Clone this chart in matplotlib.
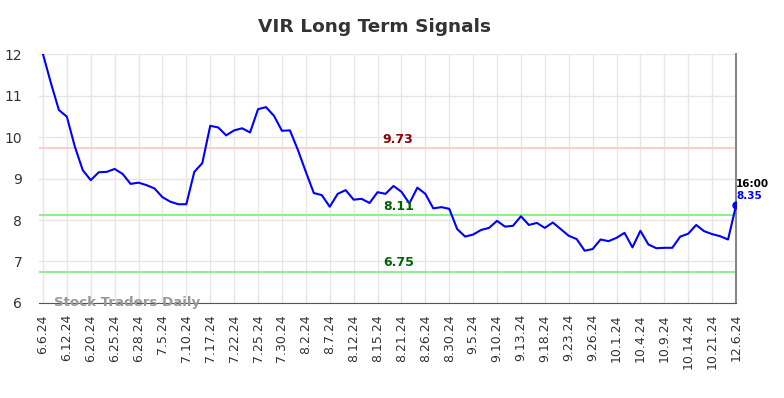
#!/usr/bin/env python3
import matplotlib
matplotlib.use("Agg")
import matplotlib.pyplot as plt

# closing values, one per trading day
prices = [12.0, 11.3, 10.65, 10.49, 9.77, 9.2, 8.96, 9.15, 9.16, 9.23,
          9.11, 8.87, 8.9, 8.84, 8.76, 8.55, 8.44, 8.38, 8.38, 9.16,
          9.37, 10.27, 10.23, 10.04, 10.16, 10.21, 10.11, 10.67, 10.72, 10.51,
          10.15, 10.16, 9.69, 9.16, 8.65, 8.6, 8.32, 8.63, 8.72, 8.49,
          8.51, 8.41, 8.67, 8.63, 8.82, 8.68, 8.4, 8.78, 8.63, 8.28,
          8.31, 8.27, 7.78, 7.6, 7.65, 7.76, 7.81, 7.98, 7.84, 7.86,
          8.09, 7.88, 7.93, 7.81, 7.94, 7.78, 7.62, 7.54, 7.26, 7.3,
          7.53, 7.49, 7.57, 7.69, 7.34, 7.74, 7.41, 7.32, 7.33, 7.33,
          7.6, 7.67, 7.88, 7.73, 7.66, 7.61, 7.53, 8.35]

tick_labels = ["6.6.24", "6.12.24", "6.20.24", "6.25.24", "6.28.24", "7.5.24",
               "7.10.24", "7.17.24", "7.22.24", "7.25.24", "7.30.24", "8.2.24",
               "8.7.24", "8.12.24", "8.15.24", "8.21.24", "8.26.24", "8.30.24",
               "9.5.24", "9.10.24", "9.13.24", "9.18.24", "9.23.24", "9.26.24",
               "10.1.24", "10.4.24", "10.9.24", "10.14.24", "10.21.24", "12.6.24"]

resistance = 9.73
supports = [8.11, 6.75]
last_time = "16:00"

fig = plt.figure(figsize=(7.84, 3.98), dpi=100)
ax = fig.add_axes([0.0497, 0.2387, 0.8891, 0.6256])

x = list(range(len(prices)))
ax.plot(x, prices, color="#0000ff", linewidth=1.5, zorder=3)
ax.plot(x[-1], prices[-1], "o", color="#0000ff", markersize=5, zorder=4)

ax.axhline(resistance, color="#ffcccc", linewidth=1.5, zorder=2)
for s in supports:
    ax.axhline(s, color="#90ee90", linewidth=1.5, zorder=2)

mid = 44.6
ax.text(mid, resistance + 0.06, f"{resistance:.2f}", color="#8b0000",
        fontsize=9, fontweight="bold", ha="center", va="bottom")
for s in supports:
    ax.text(mid, s + 0.06, f"{s:.2f}", color="#006400",
            fontsize=9, fontweight="bold", ha="center", va="bottom")

ax.text(x[-1], prices[-1] + 0.4, last_time, color="black", fontsize=7.5,
        fontweight="bold", ha="left", va="bottom")
ax.text(x[-1], prices[-1] + 0.1, f"{prices[-1]:.2f}", color="#0000ff",
        fontsize=7.5, fontweight="bold", ha="left", va="bottom")

ax.text(1.4, 6.0, "Stock Traders Daily", color="#999999", fontsize=9.6,
        fontweight="bold", ha="left", va="center", zorder=5)

ax.set_xlim(-0.5, len(prices) - 1)
ax.set_ylim(6, 12)
ax.set_yticks([6, 7, 8, 9, 10, 11, 12])
ax.set_xticks(x[::3])
ax.set_xticklabels(tick_labels, rotation=90, fontsize=9, color="#333333")
ax.tick_params(axis="y", labelsize=10, colors="#333333", length=0, pad=12)
ax.tick_params(axis="x", length=0, pad=8)

ax.grid(True, color="#e6e6e6", linewidth=1)
ax.set_axisbelow(True)
for side in ["top", "left"]:
    ax.spines[side].set_visible(False)
ax.spines["bottom"].set_color("#555555")
ax.spines["right"].set_color("#888888")
ax.spines["right"].set_linewidth(1.5)

fig.suptitle("VIR Long Term Signals", x=0.478, y=0.955, fontsize=13.3,
             fontweight="bold", color="#333333")

plt.savefig("out.png", dpi=100)
